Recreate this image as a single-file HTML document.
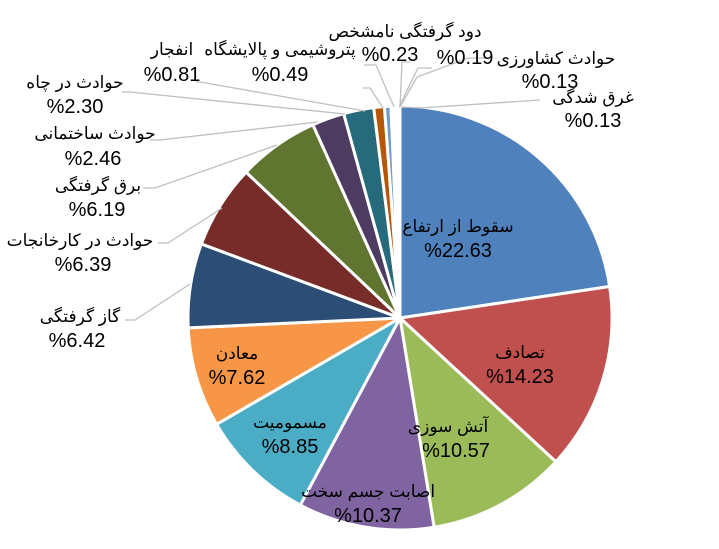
<!DOCTYPE html>
<html><head><meta charset="utf-8"><style>
html,body{margin:0;padding:0;background:#fff;}
svg text{font-family:"Liberation Sans","DejaVu Sans",sans-serif;font-size:17px;fill:#000;}
svg text.n{font-size:20px;}
</style></head><body>
<svg id="s" width="719" height="544" viewBox="0 0 719 544" xmlns="http://www.w3.org/2000/svg">
<g id="pie"></g>
<g stroke="#bfbfbf" stroke-width="1.3" fill="none">
<polyline points="400,107 402,62 410,62"/>
<polyline points="399,107 418,68 432,68"/>
<polyline points="400,107 417,77 468,58 492,58"/>
<polyline points="402,107 420,108 540,100"/>
<polyline points="394,107 376,65 364,65"/>
<polyline points="383,108 370,88 363,88"/>
<polyline points="365,111 200,82 196,82"/>
<polyline points="345,114 130,92 122,92"/>
<polyline points="318,122 160,140 150,140"/>
<polyline points="277,145 155,188 143,188"/>
<polyline points="222,208 168,243 158,243"/>
<polyline points="190,284 135,320 125,320"/>
</g>
<g text-anchor="middle">
<text x="458" y="232" direction="rtl">سقوط از ارتفاع</text><text class="n" x="458" y="257">%22.63</text>
<text x="520" y="358" direction="rtl">تصادف</text><text class="n" x="520" y="383">%14.23</text>
<text x="448" y="432" direction="rtl">آتش سوزی</text><text class="n" x="456" y="457">%10.57</text>
<text x="368" y="497" direction="rtl">اصابت جسم سخت</text><text class="n" x="368" y="522">%10.37</text>
<text x="290" y="428" direction="rtl">مسمومیت</text><text class="n" x="290" y="453">%8.85</text>
<text x="237" y="359" direction="rtl">معادن</text><text class="n" x="237" y="384">%7.62</text>
<text x="80" y="322" direction="rtl">گاز گرفتگی</text><text class="n" x="77" y="347">%6.42</text>
<text x="80" y="246" direction="rtl">حوادث در کارخانجات</text><text class="n" x="83" y="271">%6.39</text>
<text x="98" y="191" direction="rtl">برق گرفتگی</text><text class="n" x="97" y="216">%6.19</text>
<text x="95" y="139" direction="rtl">حوادث ساختمانی</text><text class="n" x="93" y="165">%2.46</text>
<text x="75" y="88" direction="rtl">حوادث در چاه</text><text class="n" x="75" y="113">%2.30</text>
<text x="172" y="55" direction="rtl">انفجار</text><text class="n" x="172" y="81">%0.81</text>
<text x="280" y="55" direction="rtl">پتروشیمی و پالایشگاه</text><text class="n" x="280" y="81">%0.49</text>
<text x="405" y="37" direction="rtl">دود گرفتگی نامشخص</text><text class="n" x="390" y="61">%0.23</text>
<text class="n" x="465" y="64">%0.19</text><text x="556" y="64" direction="rtl">حوادث کشاورزی</text>
<text class="n" x="550" y="88">%0.13</text>
<text x="593" y="103" direction="rtl">غرق شدگی</text><text class="n" x="593" y="127">%0.13</text>
</g>
</svg>
<script>
var v=[22.63,14.23,10.57,10.37,8.85,7.62,6.42,6.39,6.19,2.46,2.30,0.81,0.49,0.23,0.19,0.13,0.13];
var c=["#4F81BD","#C0504D","#9BBB59","#8064A2","#4BACC6","#F79646","#2C4D75","#772C2A","#5F7530","#4D3B62","#276A7C","#B65708","#729ACA","#CD7371","#AFC97A","#9983B5","#6FBDD1"];
var cx=400,cy=318,r=212,t=0,tot=100.01,g=document.getElementById('pie'),h='';
for(var i=0;i<v.length;i++){var a0=t/tot*2*Math.PI;t+=v[i];var a1=t/tot*2*Math.PI;
var x0=cx+r*Math.sin(a0),y0=cy-r*Math.cos(a0),x1=cx+r*Math.sin(a1),y1=cy-r*Math.cos(a1);
h+='<path d="M'+cx+','+cy+' L'+x0.toFixed(2)+','+y0.toFixed(2)+' A'+r+','+r+' 0 '+((a1-a0)>Math.PI?1:0)+' 1 '+x1.toFixed(2)+','+y1.toFixed(2)+' Z" fill="'+c[i]+'" stroke="#fff" stroke-width="3" stroke-linejoin="round"/>';}
g.innerHTML=h;
</script>
</body></html>
